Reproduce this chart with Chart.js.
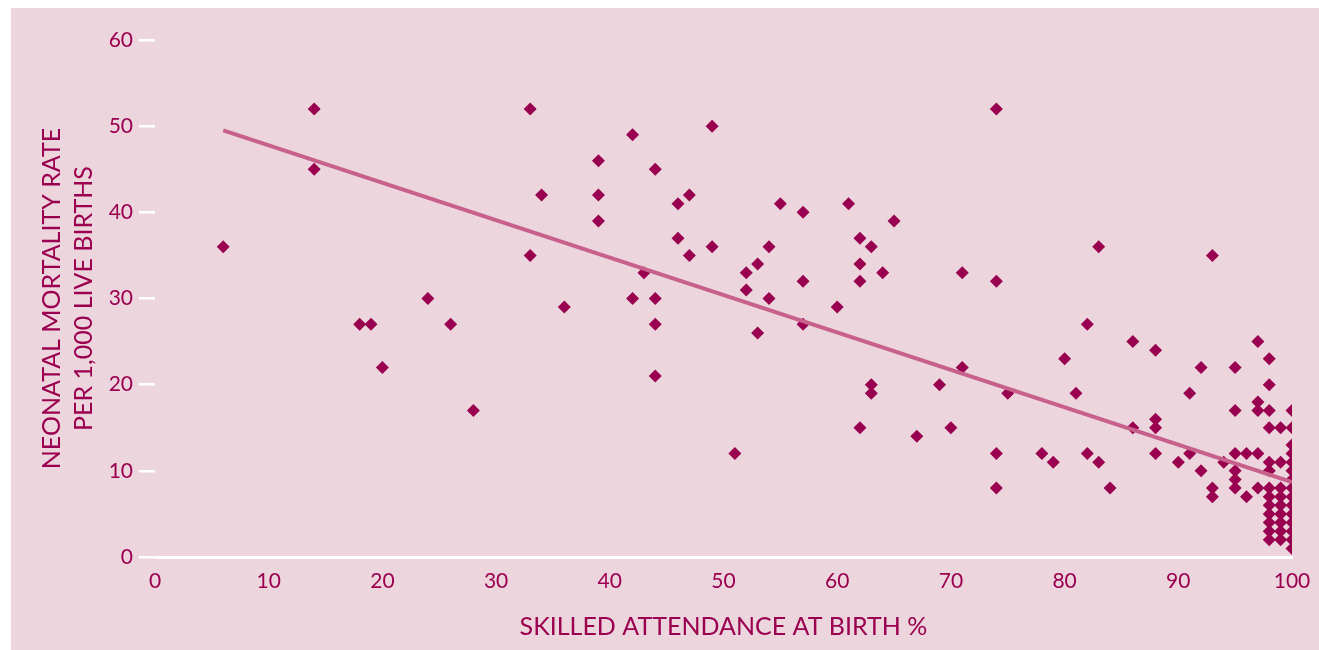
<!DOCTYPE html>
<html>
<head>
<meta charset="utf-8">
<script src="https://cdn.jsdelivr.net/npm/chart.js@4/dist/chart.umd.min.js"></script>
<style>
    html, body { margin: 0; padding: 0; background: #ffffff; }
    #panel {
        position: absolute;
        left: 11px;
        top: 8px;
        width: 1308px;
        height: 642px;
        background: #ecd5dc;
    }
</style>
</head>
<body>
<div id="panel"><canvas id="scatterChart" width="1308" height="642"></canvas></div>
<script>
// skilled attendance at birth (%) and neonatal mortality rate per 1,000, one entry per country
const skilledAttendance = [
    6, 14, 14, 18, 19, 20, 24, 26, 28,
    33, 33, 34, 36, 39, 39, 39, 42, 42, 43,
    44, 44, 44, 44, 46, 46, 47, 47, 49, 49,
    51, 52, 52, 53, 53, 54, 54, 55, 57, 57, 57,
    60, 61, 62, 62, 62, 62, 63, 63, 63, 64, 65,
    67, 69, 70, 71, 71, 74, 74, 74, 74, 75,
    78, 79, 80, 81, 82, 82, 83, 83, 84, 86, 86,
    88, 88, 88, 88, 90, 91, 91, 92, 92, 93, 93, 93, 94,
    95, 95, 95, 95, 95, 95, 96, 96, 97, 97, 97, 97, 97,
    98, 98, 98, 98, 98, 98, 98, 98, 98, 98, 98, 98, 98,
    99, 99, 99, 99, 99, 99, 99, 99, 99,
    100, 100, 100, 100, 100, 100, 100, 100, 100, 100, 100, 100, 100, 100, 100
];
const neonatalRate = [
    36, 52, 45, 27, 27, 22, 30, 27, 17,
    52, 35, 42, 29, 46, 42, 39, 49, 30, 33,
    45, 30, 27, 21, 41, 37, 42, 35, 50, 36,
    12, 33, 31, 34, 26, 36, 30, 41, 40, 32, 27,
    29, 41, 37, 34, 32, 15, 36, 20, 19, 33, 39,
    14, 20, 15, 33, 22, 52, 32, 12, 8, 19,
    12, 11, 23, 19, 27, 12, 36, 11, 8, 25, 15,
    24, 16, 15, 12, 11, 19, 12, 22, 10, 35, 8, 7, 11,
    22, 17, 12, 10, 9, 8, 12, 7, 25, 18, 17, 12, 8,
    23, 20, 17, 15, 11, 10, 8, 7, 6, 5, 4, 3, 2,
    15, 11, 8, 7, 6, 5, 4, 3, 2,
    17, 15, 13, 12, 11, 10, 9, 8, 7, 6, 5, 4, 3, 2, 1
];

// fitted trend line at its two ends
const trendX = [6, 100];
const trendY = [49.5, 8.7];

const xTicks = [0, 10, 20, 30, 40, 50, 60, 70, 80, 90, 100];
const yTicks = [0, 10, 20, 30, 40, 50, 60];

const textColor = '#9b0050';
const pointColor = '#990050';
const lineColor = '#c8608c';

function buildPoints(xs, ys) {
    return xs.map((x, i) => ({ x: x, y: ys[i] }));
}

function createScatterChart() {
    const ctx = document.getElementById('scatterChart').getContext('2d');
    new Chart(ctx, {
        type: 'scatter',
        data: {
            datasets: [{
                type: 'line',
                data: buildPoints(trendX, trendY),
                borderColor: lineColor,
                borderWidth: 4,
                pointRadius: 0,
                fill: false,
                order: 0
            }, {
                data: buildPoints(skilledAttendance, neonatalRate),
                pointStyle: 'rectRot',
                pointRadius: 6.5,
                pointBorderWidth: 0,
                backgroundColor: pointColor,
                borderColor: pointColor,
                order: 1
            }]
        },
        options: {
            responsive: false,
            animation: false,
            layout: {
                autoPadding: false,
                padding: { left: 0, right: 27, top: 32, bottom: 0 }
            },
            plugins: {
                legend: { display: false },
                tooltip: { enabled: false }
            },
            scales: {
                x: {
                    type: 'linear',
                    min: 0,
                    max: 100,
                    afterFit: (scale) => {
                        scale.height = 93;
                        scale.paddingLeft = 0;
                        scale.paddingRight = 0;
                    },
                    afterBuildTicks: (scale) => {
                        scale.ticks = xTicks.map(v => ({ value: v }));
                    },
                    grid: {
                        display: true,
                        drawOnChartArea: false,
                        drawTicks: false
                    },
                    border: { display: true, color: '#ffffff', width: 3 },
                    ticks: {
                        color: textColor,
                        padding: 12,
                        maxRotation: 0,
                        font: { family: 'Lato', size: 21 }
                    },
                    title: {
                        display: true,
                        text: 'SKILLED ATTENDANCE AT BIRTH %',
                        color: textColor,
                        padding: { top: 0, bottom: 8 },
                        font: { family: 'Lato', size: 25 }
                    }
                },
                y: {
                    type: 'linear',
                    min: 0,
                    max: 60,
                    afterFit: (scale) => {
                        scale.width = 144;
                        scale.paddingTop = 0;
                        scale.paddingBottom = 0;
                    },
                    afterBuildTicks: (scale) => {
                        scale.ticks = yTicks.map(v => ({ value: v }));
                    },
                    grid: {
                        display: true,
                        drawOnChartArea: false,
                        drawTicks: true,
                        tickLength: 16,
                        color: '#ffffff',
                        lineWidth: 2.5
                    },
                    border: { display: false },
                    ticks: {
                        color: textColor,
                        padding: 6,
                        font: { family: 'Lato', size: 21 }
                    },
                    title: {
                        display: true,
                        text: ['NEONATAL MORTALITY RATE', 'PER 1,000 LIVE BIRTHS'],
                        color: textColor,
                        padding: { top: 25, bottom: 0 },
                        font: { family: 'Lato', size: 25, lineHeight: 1.28 }
                    }
                }
            }
        }
    });
}

document.addEventListener('DOMContentLoaded', createScatterChart);
</script>
</body>
</html>
